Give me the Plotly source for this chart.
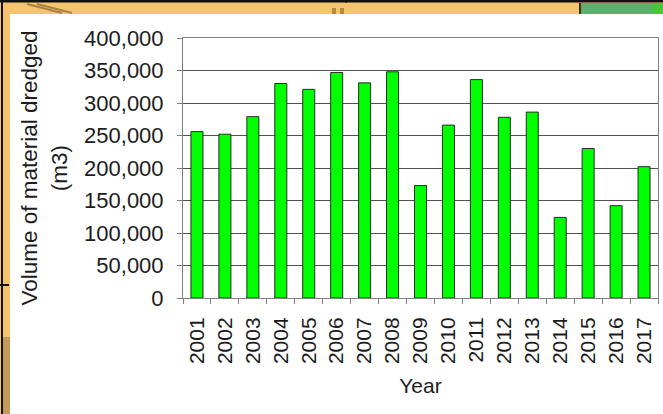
import plotly.graph_objects as go

# Annual dredging volumes
years = [str(y) for y in range(2001, 2018)]
volumes = [256000, 252000, 279000, 330000, 321000, 347000, 331000, 348000,
           173000, 266000, 336000, 278000, 286000, 124000, 230000, 142000, 202000]
y_ticks = [0, 50000, 100000, 150000, 200000, 250000, 300000, 350000, 400000]

W, H = 663, 414
L, R, T, B = 183, 658, 38, 298   # plot area edges in pixels


def px(x):
    return (x - L) / (R - L)


def py(y):
    return (B - y) / (B - T)


def rect(x0, y0, x1, y1, color):
    return dict(type="rect", xref="paper", yref="paper", layer="below",
                x0=px(x0), x1=px(x1), y0=py(y1), y1=py(y0),
                fillcolor=color, line=dict(width=0))


def seg(x0, y0, x1, y1, color, width):
    return dict(type="line", xref="paper", yref="paper", layer="below",
                x0=px(x0), x1=px(x1), y0=py(y0), y1=py(y1),
                line=dict(color=color, width=width))


font = "Liberation Sans, Arial, sans-serif"
ink = "#1c1c1c"

fig = go.Figure(go.Bar(
    x=years, y=volumes,
    marker=dict(color="#00FF00", line=dict(color="#2a2a2a", width=1)),
))

shapes = [
    # page frame behind the chart panel
    rect(10, 14, W + 5, H + 5, "#FFFFFF"),
    rect(3, 337, 10, H + 5, "#C49A5A"),
    rect(580, 3, W + 5, 14, "#5FAE6E"),
    rect(652, 3, W + 5, 14, "#48C63A"),
    seg(580, 3, 580, 14, "#3a3220", 2),
    rect(332, 8, 336, 14, "#B08A40"),
    rect(340, 8, 344, 14, "#B08A40"),
    seg(27, 4, 62, 13, "#A88440", 2),
    seg(37, 4, 72, 13, "#A88440", 2),
    seg(-5, 1, W + 5, 1, "#111111", 3),
    seg(2, 0, 2, H + 5, "#111111", 2),
    seg(0, 285, 9, 285, "#111111", 2),
    seg(346, 0, 346, 3, "#111111", 1),
]

fig.update_layout(
    width=W, height=H,
    margin=dict(l=L, r=W - R, t=T, b=H - B, pad=0),
    paper_bgcolor="#F5C46E",
    plot_bgcolor="#BFBFBF",
    bargap=0.57,
    showlegend=False,
    font=dict(family=font, size=21, color=ink),
    shapes=shapes,
    xaxis=dict(
        type="category",
        tickangle=-90,
        tickson="boundaries",
        ticks="outside", ticklen=5, tickcolor="#808080",
        ticklabelstandoff=10,
        showline=True, linecolor="#808080", linewidth=1, mirror=True,
        showgrid=False,
        tickfont=dict(family=font, size=21, color=ink),
        title=dict(text="Year", font=dict(family=font, size=21, color=ink), standoff=15),
    ),
    yaxis=dict(
        range=[0, 400000],
        tickvals=y_ticks,
        tickformat=",",
        ticks="outside", ticklen=5, tickcolor="#808080",
        ticklabelstandoff=9,
        showline=True, linecolor="#808080", linewidth=1, mirror=True,
        showgrid=True, gridcolor="#505050", gridwidth=1,
        zeroline=False,
        tickfont=dict(family=font, size=22, color=ink),
        title=dict(text="Volume of material dredged<br>(m3)",
                   font=dict(family=font, size=22.5, color=ink), standoff=10),
    ),
)

fig.write_html("out.html")
